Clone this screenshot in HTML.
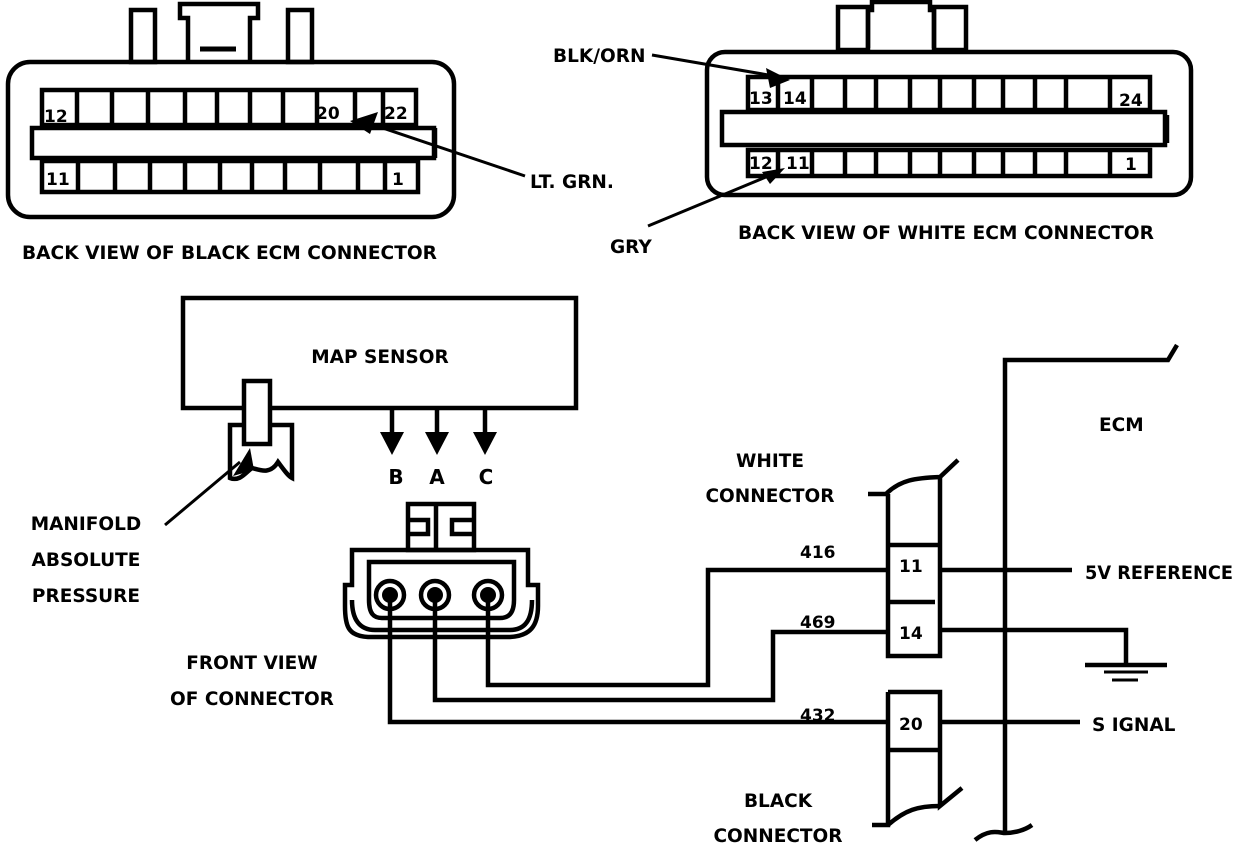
<!DOCTYPE html>
<html><head><meta charset="utf-8"><style>
html,body{margin:0;padding:0;background:#fff;}
svg{display:block}
text{font-family:"DejaVu Sans","Liberation Sans",sans-serif;font-weight:bold;fill:#000;}
</style></head><body>
<svg width="1248" height="850" viewBox="0 0 1248 850" xmlns="http://www.w3.org/2000/svg">
<g fill="none" stroke="#000" stroke-width="4.5">
<!-- BLACK ECM connector -->
<rect x="8" y="62" width="446" height="155" rx="22"/>
<rect x="131" y="10" width="24" height="52"/>
<rect x="288" y="10" width="24" height="52"/>
<path d="M188 60 V18 H180 V4 H258 V18 H250 V60"/>
<line x1="200" y1="49" x2="236" y2="49" stroke-width="5"/>
<rect x="42" y="90" width="374" height="35"/>
<rect x="32" y="128" width="402" height="30"/>
<line x1="435" y1="128" x2="435" y2="158"/>
<rect x="42" y="161" width="376" height="31"/>
<g>
<line x1="77" y1="90" x2="77" y2="125"/><line x1="112" y1="90" x2="112" y2="125"/><line x1="148" y1="90" x2="148" y2="125"/><line x1="185" y1="90" x2="185" y2="125"/><line x1="217" y1="90" x2="217" y2="125"/><line x1="250" y1="90" x2="250" y2="125"/><line x1="283" y1="90" x2="283" y2="125"/><line x1="317" y1="90" x2="317" y2="125"/><line x1="355" y1="90" x2="355" y2="125"/><line x1="383" y1="90" x2="383" y2="125"/>
<line x1="78" y1="161" x2="78" y2="192"/><line x1="115" y1="161" x2="115" y2="192"/><line x1="150" y1="161" x2="150" y2="192"/><line x1="185" y1="161" x2="185" y2="192"/><line x1="220" y1="161" x2="220" y2="192"/><line x1="252" y1="161" x2="252" y2="192"/><line x1="285" y1="161" x2="285" y2="192"/><line x1="320" y1="161" x2="320" y2="192"/><line x1="358" y1="161" x2="358" y2="192"/><line x1="385" y1="161" x2="385" y2="192"/>
</g>
<line x1="525" y1="176" x2="365" y2="122" stroke-width="3"/>
<!-- WHITE ECM connector -->
<rect x="707" y="52" width="484" height="143" rx="18"/>
<rect x="838" y="7" width="30" height="43"/>
<rect x="934" y="7" width="32" height="43"/>
<path d="M868 48 V10 H872 V2 H930 V10 H934 V48"/>
<rect x="748" y="77" width="402" height="33"/>
<rect x="722" y="112" width="443" height="33"/>
<line x1="1167" y1="115" x2="1167" y2="143"/>
<rect x="748" y="150" width="402" height="26"/>
<g>
<line x1="778" y1="77" x2="778" y2="110"/><line x1="812" y1="77" x2="812" y2="110"/><line x1="845" y1="77" x2="845" y2="110"/><line x1="876" y1="77" x2="876" y2="110"/><line x1="910" y1="77" x2="910" y2="110"/><line x1="940" y1="77" x2="940" y2="110"/><line x1="974" y1="77" x2="974" y2="110"/><line x1="1003" y1="77" x2="1003" y2="110"/><line x1="1035" y1="77" x2="1035" y2="110"/><line x1="1066" y1="77" x2="1066" y2="110"/><line x1="1110" y1="77" x2="1110" y2="110"/>
<line x1="778" y1="150" x2="778" y2="176"/><line x1="812" y1="150" x2="812" y2="176"/><line x1="845" y1="150" x2="845" y2="176"/><line x1="876" y1="150" x2="876" y2="176"/><line x1="910" y1="150" x2="910" y2="176"/><line x1="940" y1="150" x2="940" y2="176"/><line x1="974" y1="150" x2="974" y2="176"/><line x1="1003" y1="150" x2="1003" y2="176"/><line x1="1035" y1="150" x2="1035" y2="176"/><line x1="1066" y1="150" x2="1066" y2="176"/><line x1="1110" y1="150" x2="1110" y2="176"/>
</g>
<line x1="652" y1="55" x2="780" y2="77" stroke-width="3"/>
<line x1="648" y1="226" x2="778" y2="172" stroke-width="3"/>
<!-- MAP sensor -->
<rect x="183" y="298" width="393" height="110"/>
<rect x="244" y="381" width="26" height="63" fill="#fff"/>
<path d="M244 425 H230 V478 C240 482 246 472 252 468 C260 470 270 475 278 462 C284 470 288 476 292 478 V425 H270"/>
<line x1="165" y1="525" x2="240" y2="462" stroke-width="3"/>
<line x1="392" y1="408" x2="392" y2="435"/>
<line x1="437" y1="408" x2="437" y2="435"/>
<line x1="485" y1="408" x2="485" y2="435"/>
<!-- plug -->
<rect x="408" y="504" width="66" height="46"/>
<line x1="436" y1="504" x2="436" y2="550"/>
<path d="M408 520 H428 V534 H408 M474 520 H452 V534 H474"/>
<path d="M352 550 H528 V585 H538 V606 C538 626 530 636 510 637 H368 C348 636 345 626 345 606 V585 H352 Z"/>
<path d="M369 562 H514 V600 C514 614 508 618 500 618 H382 C374 618 369 614 369 600 Z"/>
<path d="M352 600 C352 620 360 630 375 630 H510 C525 630 532 620 532 600"/>
<circle cx="390" cy="595" r="14"/><circle cx="435" cy="595" r="14"/><circle cx="488" cy="595" r="14"/>
<!-- wires -->
<path d="M390 595 V722 H890"/>
<path d="M435 595 V700 H773 V632 H890"/>
<path d="M488 595 V685 H708 V570 H890"/>
<!-- connector column -->
<path d="M868 494 H886 C900 480 915 478 940 477 L958 460"/>
<path d="M888 494 V656 H940 V477"/>
<line x1="888" y1="545" x2="940" y2="545"/>
<line x1="888" y1="602" x2="935" y2="602"/>
<path d="M888 692 H940 V806 L962 788"/>
<path d="M888 692 V825 H872 M888 825 C905 810 918 806 940 806"/>
<line x1="888" y1="750" x2="940" y2="750"/>
<!-- ECM -->
<path d="M1005 833 V360 H1168 L1177 345"/>
<path d="M975 840 C990 828 1000 833 1005 833 C1015 833 1025 830 1032 825"/>
<line x1="942" y1="570" x2="1072" y2="570"/>
<path d="M942 630 H1126 V664"/>
<line x1="1085" y1="665" x2="1167" y2="665"/>
<line x1="1104" y1="672" x2="1148" y2="672" stroke-width="3"/>
<line x1="1112" y1="680" x2="1138" y2="680" stroke-width="3"/>
<line x1="942" y1="722" x2="1080" y2="722"/>
</g>
<g fill="#000">
<polygon points="350,121 378,112 370,134"/>
<polygon points="790,80 766,68 770,88"/>
<polygon points="785,168 762,172 770,184"/>
<polygon points="233,476 250,448 254,470"/>
<polygon points="380,432 404,432 392,455"/>
<polygon points="425,432 449,432 437,455"/>
<polygon points="473,432 497,432 485,455"/>
<circle cx="390" cy="595" r="8"/><circle cx="435" cy="595" r="8"/><circle cx="488" cy="595" r="8"/>
</g>
<g font-size="17">
<text x="44" y="122">12</text><text x="316" y="119">20</text><text x="384" y="119">22</text>
<text x="46" y="185">11</text><text x="392" y="185">1</text>
<text x="749" y="104">13</text><text x="783" y="104">14</text><text x="1119" y="106">24</text>
<text x="749" y="169">12</text><text x="786" y="169">11</text><text x="1125" y="170">1</text>
<text x="899" y="572">11</text><text x="899" y="639">14</text><text x="899" y="730">20</text>
<text x="800" y="558">416</text><text x="800" y="628">469</text><text x="800" y="721">432</text>
</g>
<g font-size="18.5">
<text x="22" y="259" textLength="415" lengthAdjust="spacingAndGlyphs">BACK VIEW OF BLACK ECM CONNECTOR</text>
<text x="738" y="239" textLength="416" lengthAdjust="spacingAndGlyphs">BACK VIEW OF WHITE ECM CONNECTOR</text>
<text x="553" y="62">BLK/ORN</text>
<text x="530" y="188">LT. GRN.</text>
<text x="610" y="253">GRY</text>
<text x="380" y="363" text-anchor="middle">MAP SENSOR</text>
<text x="396" y="484" text-anchor="middle" font-size="20">B</text>
<text x="437" y="484" text-anchor="middle" font-size="20">A</text>
<text x="486" y="484" text-anchor="middle" font-size="20">C</text>
<text x="86" y="530" text-anchor="middle">MANIFOLD</text>
<text x="86" y="566" text-anchor="middle">ABSOLUTE</text>
<text x="86" y="602" text-anchor="middle">PRESSURE</text>
<text x="252" y="669" text-anchor="middle">FRONT VIEW</text>
<text x="252" y="705" text-anchor="middle">OF CONNECTOR</text>
<text x="770" y="467" text-anchor="middle">WHITE</text>
<text x="770" y="502" text-anchor="middle">CONNECTOR</text>
<text x="778" y="807" text-anchor="middle">BLACK</text>
<text x="778" y="842" text-anchor="middle">CONNECTOR</text>
<text x="1099" y="431">ECM</text>
<text x="1085" y="579" textLength="148" lengthAdjust="spacingAndGlyphs">5V REFERENCE</text>
<text x="1092" y="731">S IGNAL</text>
</g>
</svg>
</body></html>
